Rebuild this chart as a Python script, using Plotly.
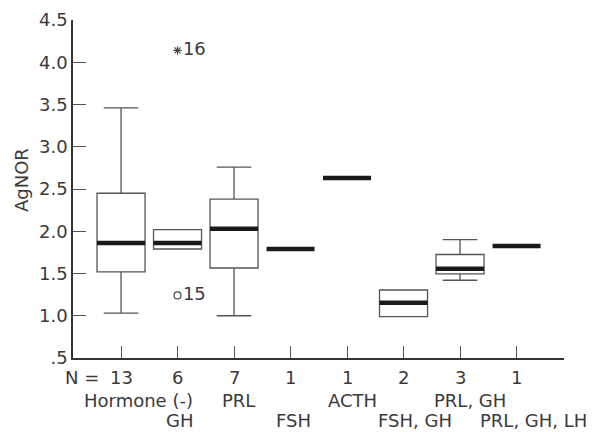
import plotly.graph_objects as go

categories = ["Hormone (-)", "GH", "PRL", "FSH", "ACTH", "FSH, GH", "PRL, GH", "PRL, GH, LH"]
counts = [13, 6, 7, 1, 1, 2, 3, 1]
q1 = [1.52, 1.79, 1.565, 1.79, 2.63, 0.99, 1.495, 1.825]
median = [1.86, 1.86, 2.03, 1.79, 2.63, 1.155, 1.555, 1.825]
q3 = [2.45, 2.02, 2.38, 1.79, 2.63, 1.305, 1.725, 1.825]
lower = [1.03, 1.79, 1.0, 1.79, 2.63, 0.99, 1.42, 1.825]
upper = [3.46, 2.02, 2.76, 1.79, 2.63, 1.305, 1.90, 1.825]
outlier_x = [2]
outlier_y = [1.24]
outlier_lbl = ["15"]
extreme_x = [2]
extreme_y = [4.14]
extreme_lbl = ["16"]
ytick_vals = [0.5, 1.0, 1.5, 2.0, 2.5, 3.0, 3.5, 4.0, 4.5]
ytick_text = [".5", "1.0", "1.5", "2.0", "2.5", "3.0", "3.5", "4.0", "4.5"]

FONT = "DejaVu Sans"
TXT = "#3a3a3a"
FS = 18
pos = list(range(1, len(categories) + 1))
W = 0.85

fig = go.Figure()

# boxes only for groups with n > 1
sel = [i for i, n in enumerate(counts) if n > 1]
fig.add_trace(go.Box(
    x=[pos[i] for i in sel],
    q1=[q1[i] for i in sel], median=[median[i] for i in sel], q3=[q3[i] for i in sel],
    lowerfence=[lower[i] for i in sel], upperfence=[upper[i] for i in sel],
    width=W, whiskerwidth=0.72, boxpoints=False,
    line=dict(color="#555555", width=1.3), fillcolor="rgba(0,0,0,0)",
    hoverinfo="skip", showlegend=False,
))

# thick median lines
mx, my = [], []
for p, m in zip(pos, median):
    mx += [p - W / 2, p + W / 2, None]
    my += [m, m, None]
fig.add_trace(go.Scatter(x=mx, y=my, mode="lines",
                         line=dict(color="#1a1a1a", width=4.5),
                         showlegend=False, hoverinfo="skip"))

fig.add_trace(go.Scatter(x=outlier_x, y=outlier_y, mode="markers+text",
                         marker=dict(symbol="circle-open", size=7, color="#444444", line=dict(width=1.2)),
                         text=outlier_lbl, textposition="middle right",
                         textfont=dict(family=FONT, size=FS, color=TXT),
                         showlegend=False, hoverinfo="skip"))
fig.add_trace(go.Scatter(x=extreme_x, y=extreme_y, mode="markers+text",
                         marker=dict(symbol="asterisk-open", size=7, color="#444444", line=dict(width=1.1)),
                         text=extreme_lbl, textposition="middle right",
                         textfont=dict(family=FONT, size=FS, color=TXT),
                         showlegend=False, hoverinfo="skip"))

annotations = []
annotations.append(dict(x=0, xref="paper", xshift=-10, y=0, yref="paper", yshift=-19,
                        text="N =", showarrow=False, xanchor="left", yanchor="middle",
                        font=dict(family=FONT, size=FS, color=TXT)))
shifts = [17, 2, 4, 3, 5, 11, 10, 17]
for i, (p, n, c) in enumerate(zip(pos, counts, categories)):
    annotations.append(dict(x=p, y=0, yref="paper", yshift=-19, text=str(n), showarrow=False,
                            xanchor="center", yanchor="middle",
                            font=dict(family=FONT, size=FS, color=TXT)))
    row = 0 if i % 2 == 0 else 1
    annotations.append(dict(x=p, y=0, yref="paper", xshift=shifts[i], yshift=-42 - 20 * row,
                            text=c, showarrow=False, xanchor="center", yanchor="middle",
                            font=dict(family=FONT, size=FS, color=TXT)))
annotations.append(dict(x=0, xref="paper", xshift=-52, y=0.5, yref="paper", yshift=9,
                        text="AgNOR", textangle=-90, showarrow=False,
                        xanchor="center", yanchor="middle",
                        font=dict(family=FONT, size=FS, color=TXT)))

fig.update_layout(
    width=595, height=432,
    margin=dict(l=73, r=31, t=20, b=74, autoexpand=False),
    paper_bgcolor="white", plot_bgcolor="white",
    font=dict(family=FONT, size=FS, color=TXT),
    annotations=annotations,
    xaxis=dict(range=[0.15, 8.84], tickvals=pos, ticktext=[""] * len(pos),
               ticks="inside", ticklen=12, tickcolor="#555555", tickwidth=1.2,
               showline=True, linecolor="#333333", linewidth=1.5, automargin=False,
               showgrid=False, zeroline=False, fixedrange=True),
    yaxis=dict(range=[0.5, 4.5], tickvals=ytick_vals, ticktext=ytick_text,
               ticks="inside", ticklen=13, tickcolor="#555555", tickwidth=1.2,
               showline=True, linecolor="#333333", linewidth=1.5, automargin=False,
               showgrid=False, zeroline=False, fixedrange=True,
               tickfont=dict(family=FONT, size=FS, color=TXT)),
)

fig.write_html("out.html", config={"displayModeBar": False},
               post_script="document.body.style.margin='0';document.body.style.overflow='hidden';")
